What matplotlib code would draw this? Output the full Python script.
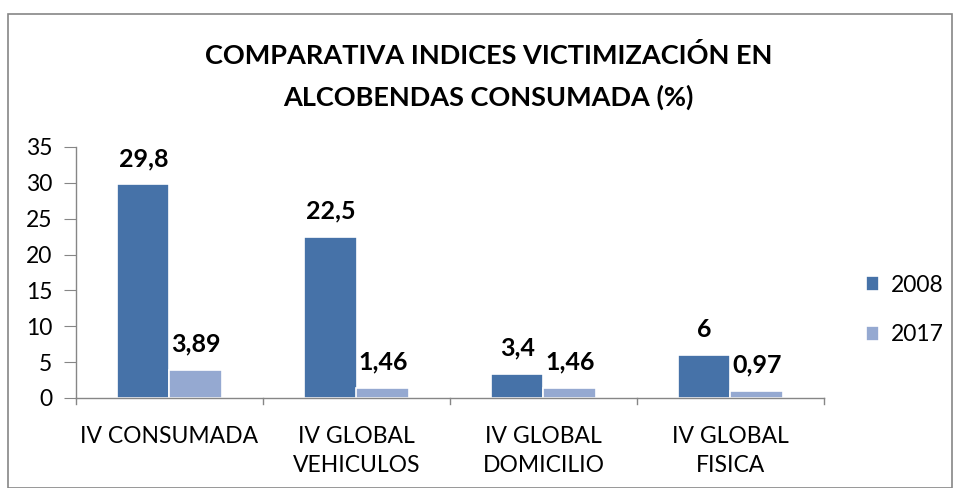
import matplotlib
matplotlib.use("Agg")
import matplotlib.pyplot as plt
from matplotlib.patches import Rectangle
import numpy as np

categories = ["IV CONSUMADA", "IV GLOBAL\nVEHICULOS", "IV GLOBAL\nDOMICILIO", "IV GLOBAL\nFISICA"]
series_names = ["2008", "2017"]
values_2008 = [29.8, 22.5, 3.4, 6]
values_2017 = [3.89, 1.46, 1.46, 0.97]
labels_2008 = ["29,8", "22,5", "3,4", "6"]
labels_2017 = ["3,89", "1,46", "1,46", "0,97"]
yticks = [0, 5, 10, 15, 20, 25, 30, 35]

plt.rcParams['font.family'] = ['Lato', 'DejaVu Sans']

fig = plt.figure(figsize=(9.54, 4.88), dpi=100)
ax = fig.add_axes([76/954, 1-398/488, (824-76)/954, (398-147)/488])

c1 = "#4672A8"
c2 = "#95A9D1"
x = np.arange(len(categories))
w = 0.28
b1 = ax.bar(x - w/2, values_2008, w, color=c1, edgecolor="white", linewidth=1.2, label=series_names[0])
b2 = ax.bar(x + w/2, values_2017, w, color=c2, edgecolor="white", linewidth=1.2, label=series_names[1])

for rect, lab in zip(b1, labels_2008):
    ax.text(rect.get_x() + rect.get_width()/2, rect.get_height() + 2.0, lab,
            ha="center", va="bottom", fontsize=18, fontweight="bold")
for rect, lab in zip(b2, labels_2017):
    ax.text(rect.get_x() + rect.get_width()/2, rect.get_height() + 2.0, lab,
            ha="center", va="bottom", fontsize=18, fontweight="bold")

ax.set_xlim(-0.5, len(categories) - 0.5)
ax.set_ylim(0, 35)
ax.set_yticks(yticks)
ax.set_yticklabels([str(t) for t in yticks], fontsize=16.5)
ax.set_xticks(x)
ax.set_xticklabels(categories, fontsize=16.5, linespacing=1.5)
ax.tick_params(axis="x", length=0, pad=20)
for xb in np.arange(-0.5, len(categories), 1.0):
    ax.plot([xb, xb], [0, -0.9], color="#868686", lw=1, clip_on=False)
ax.tick_params(axis="y", length=9, color="#868686", direction="out", pad=8)
for s in ["top", "right"]:
    ax.spines[s].set_visible(False)
for s in ["left", "bottom"]:
    ax.spines[s].set_color("#868686")
    ax.spines[s].set_linewidth(1)

fig.text(0.512, 1-56/488, "COMPARATIVA INDICES VICTIMIZACIÓN EN", ha="center", va="center",
         fontsize=19.5, fontweight="bold")
fig.text(0.512, 1-97/488, "ALCOBENDAS CONSUMADA (%)", ha="center", va="center",
         fontsize=19.5, fontweight="bold")

leg = fig.legend(handles=[b1, b2], labels=series_names, loc="center left",
                 bbox_to_anchor=(845/954, 1-310/488), frameon=False, fontsize=16.5,
                 handlelength=0.6, handleheight=0.6, labelspacing=1.25, handletextpad=0.5)

fig.patches.append(Rectangle((8/954, 0), 944/954, 1-14/488, transform=fig.transFigure,
                             fill=False, edgecolor="#868686", linewidth=1.2))

fig.savefig("out.png", dpi=100)
